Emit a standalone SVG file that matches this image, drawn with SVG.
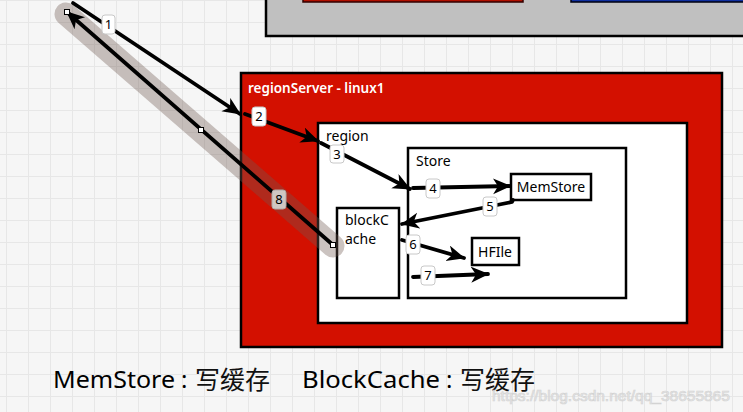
<svg xmlns="http://www.w3.org/2000/svg" width="743" height="412" viewBox="0 0 743 412">
<defs>
<pattern id="grid" x="6" y="0" width="22" height="22" patternUnits="userSpaceOnUse">
<rect width="22" height="22" fill="#f6f6f6"/>
<path d="M0,0 H22 M0,0 V22" stroke="#e7e7e7" stroke-width="2" fill="none"/>
</pattern>
<marker id="ah" markerUnits="userSpaceOnUse" markerWidth="20" markerHeight="18" refX="17" refY="8" orient="auto">
<path d="M0,0 L18,8 L0,16 L5,8 z" fill="#000"/>
</marker>
<style>
.box{stroke:#000;stroke-width:2.5;fill:#fff}
.t{font-family:"Noto Sans","Liberation Sans",sans-serif;font-size:14px;fill:#000}
.c{stroke:#000;stroke-width:3.8;fill:none;stroke-linecap:round;stroke-linejoin:round}
.lb rect{fill:#fff;stroke:#c8c8c8;stroke-width:1}
.lb text{font-family:"Noto Sans","Liberation Sans",sans-serif;font-size:13px;fill:#000;text-anchor:middle}
.h{fill:#fff;stroke:#000;stroke-width:1}
.lg{font-family:"Noto Sans","Noto Sans CJK SC",sans-serif;font-size:24px;fill:#000}
.cj{font-family:"Noto Sans CJK SC",sans-serif;font-size:25px;fill:#111}
</style>
</defs>
<rect width="743" height="412" fill="url(#grid)"/>

<g id="topbox">
<rect x="266" y="-10" width="490" height="46" fill="#c0c0c0" stroke="#000" stroke-width="2.5"/>
<rect x="303" y="-6" width="220" height="8" fill="#b01000" stroke="#300" stroke-width="1.5"/>
<rect x="571" y="-6" width="180" height="8" fill="#1030a0" stroke="#001" stroke-width="1.5"/>
</g>

<g id="regionServer">
<rect x="241" y="73" width="481" height="274" fill="#d31000" stroke="#000" stroke-width="2.5"/>
<text x="248" y="93" style="font-family:'Noto Sans','Liberation Sans',sans-serif;font-size:13.5px;font-weight:600;fill:#fff">regionServer - linux1</text>
</g>

<g id="region">
<rect class="box" x="318" y="123" width="369" height="200"/>
<text class="t" x="326" y="141">region</text>
</g>

<g id="store">
<rect class="box" x="408" y="148" width="218" height="150"/>
<text class="t" x="416" y="166">Store</text>
</g>

<g id="blockCache">
<rect class="box" x="337" y="208" width="62" height="90"/>
<text class="t" x="345" y="225">blockC</text>
<text class="t" x="345" y="244">ache</text>
</g>

<g id="memStore">
<rect class="box" x="511" y="174" width="80" height="26"/>
<text class="t" x="551" y="192" text-anchor="middle">MemStore</text>
</g>

<g id="hfile">
<rect class="box" x="472" y="238" width="47" height="27"/>
<text class="t" x="495" y="257" text-anchor="middle">HFIle</text>
</g>

<g id="connectors">
<path d="M66,14 L333,246" stroke="rgba(110,90,80,0.36)" stroke-width="23" stroke-linecap="round" fill="none"/>
<path class="c" d="M73,3 L240,114" marker-end="url(#ah)"/>
<path class="c" d="M333,245 L67,12" marker-end="url(#ah)"/>
<path class="c" d="M245,114 L318,141" marker-end="url(#ah)"/>
<path class="c" d="M321,143 L410,189" marker-end="url(#ah)"/>
<path class="c" d="M413,188 L510,186" marker-end="url(#ah)"/>
<path class="c" d="M513,200 L512,202 L492,206 L402,224" marker-end="url(#ah)"/>
<path class="c" d="M402,240 L464,258" marker-end="url(#ah)"/>
<path class="c" d="M413,277 L488,274" marker-end="url(#ah)"/>
<rect class="h" x="64.5" y="9.5" width="5" height="5"/>
<rect class="h" x="198.5" y="127.5" width="5" height="5"/>
<rect class="h" x="330.5" y="242.5" width="5" height="5"/>
<g class="lb">
<rect x="102" y="15" width="13" height="19" rx="3"/><text x="108.5" y="29">1</text>
<rect x="252" y="107" width="14" height="19" rx="3"/><text x="259" y="121">2</text>
<rect x="330" y="145" width="14" height="18" rx="3"/><text x="337" y="159">3</text>
<rect x="426" y="179" width="14" height="19" rx="3"/><text x="433" y="193">4</text>
<rect x="483" y="197" width="14" height="19" rx="3"/><text x="490" y="211">5</text>
<rect x="406" y="235" width="14" height="19" rx="3"/><text x="413" y="249">6</text>
<rect x="421" y="266" width="14" height="19" rx="3"/><text x="428" y="280">7</text>
<rect x="272" y="190" width="14" height="19" rx="3" style="fill:#cfc7c2;stroke:#b0a8a4"/><text x="279" y="204">8</text>
</g>
</g>

<g id="legend">
<text class="lg" x="53" y="388" textLength="122" lengthAdjust="spacingAndGlyphs">MemStore</text>
<text class="lg" x="181" y="388">:</text>
<text class="cj" x="195" y="389">写缓存</text>
<text class="lg" x="302" y="388" textLength="138" lengthAdjust="spacingAndGlyphs">BlockCache</text>
<text class="lg" x="446" y="388">:</text>
<text class="cj" x="460" y="389">写缓存</text>
</g>
<text x="492" y="401" style="font-family:'Liberation Sans',sans-serif;font-size:15.5px;fill:#ececec;stroke:#d0d0d0;stroke-width:0.7;opacity:0.9">https://blog.csdn.net/qq_38655865</text>
</svg>
